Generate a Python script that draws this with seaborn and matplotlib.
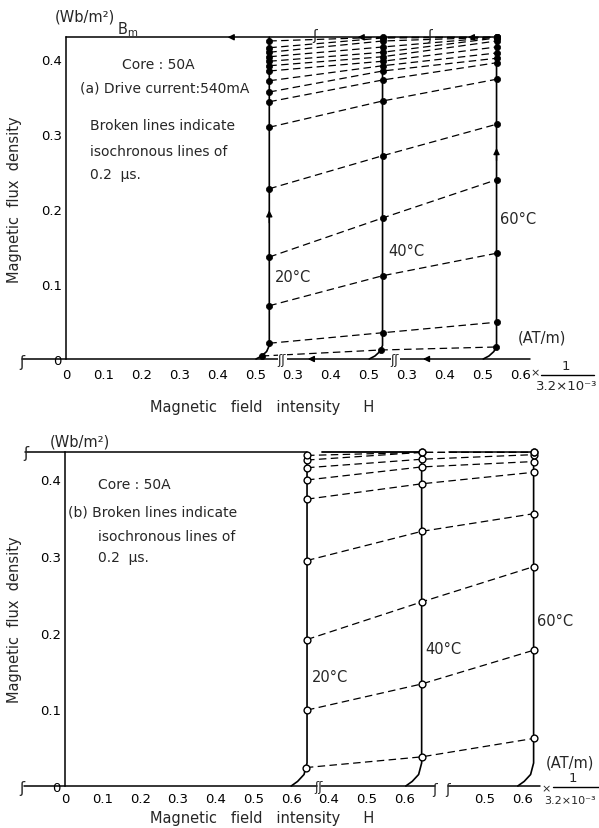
import numpy as np
import pandas as pd
import seaborn as sns
import matplotlib.pyplot as plt

sns.set_style("white")
plt.rcParams['font.family'] = ['DejaVu Sans']

W, HH = 599, 829
temps = ['20°C', '40°C', '60°C']

#######
## (a) drive current 540 mA  (filled dots)
#######
Bm_a = 0.429
Hsw_a = [0.535, 0.536, 0.536]            # switching field of each curve (x 1/3.2e-3 AT/m)
seg_a = [0.0, 0.297, 0.597]              # where each broken H segment sits on the drawing
foot_B_a = [0.0, 0.004, 0.010, 0.018]
foot_dH_a = [-0.035, -0.020, -0.007, 0.0]
# isochronous points (0.2 us apart) on each curve
iso_a_20 = [0.004, 0.021, 0.071, 0.136, 0.227, 0.309, 0.343, 0.356, 0.371, 0.384, 0.391, 0.397, 0.403, 0.409, 0.415, 0.424]
iso_a_40 = [0.012, 0.035, 0.111, 0.188, 0.271, 0.344, 0.372, 0.384, 0.391, 0.397, 0.403, 0.409, 0.416, 0.424, 0.428, 0.429]
iso_a_60 = [0.016, 0.049, 0.141, 0.239, 0.313, 0.373, 0.395, 0.401, 0.408, 0.416, 0.424, 0.428, 0.429, 0.429, 0.429, 0.429]
xt_a = [[0, 0.1, 0.2, 0.3, 0.4, 0.5], [0.3, 0.4, 0.5], [0.3, 0.4, 0.5, 0.6]]

#######
## (b)  (open dots)
#######
Bm_b = 0.435
Hsw_b = [0.642, 0.646, 0.630]
seg_b = [0.0, 0.300, 0.613]
foot_B_b = [0.0, 0.006, 0.015, 0.030]
foot_dH_b = [-0.042, -0.025, -0.008, 0.0]
iso_b_20 = [0.024, 0.099, 0.191, 0.294, 0.374, 0.399, 0.415, 0.425, 0.431]
iso_b_40 = [0.038, 0.133, 0.240, 0.332, 0.394, 0.416, 0.426, 0.435, 0.435]
iso_b_60 = [0.062, 0.177, 0.286, 0.355, 0.409, 0.423, 0.432, 0.435, 0.435]
xt_b = [[0, 0.1, 0.2, 0.3, 0.4, 0.5, 0.6], [0.4, 0.5, 0.6], [0.5, 0.6]]
yt = [0, 0.1, 0.2, 0.3, 0.4]


def build(Hsw, seg, fB, fdH, Bm, isos):
    rows_c, rows_d = [], []
    for i, t in enumerate(temps):
        B_path = np.array(fB + [Bm])
        H_path = np.array([Hsw[i] + d for d in fdH] + [Hsw[i]])
        for h, b in zip(H_path, B_path):
            rows_c.append((t, h + seg[i], b))
        for k, b in enumerate(isos[i]):
            h = np.interp(b, B_path, H_path)
            rows_d.append((k, t, h + seg[i], b))
    curves = pd.DataFrame(rows_c, columns=['temp', 'u', 'B'])
    dots = pd.DataFrame(rows_d, columns=['level', 'temp', 'u', 'B'])
    return curves, dots


curves_a, dots_a = build(Hsw_a, seg_a, foot_B_a, foot_dH_a, Bm_a, [iso_a_20, iso_a_40, iso_a_60])
curves_b, dots_b = build(Hsw_b, seg_b, foot_B_b, foot_dH_b, Bm_b, [iso_b_20, iso_b_40, iso_b_60])

fig = plt.figure(figsize=(W / 100, HH / 100), dpi=100)
ax_a = fig.add_axes([0, 1 - 420 / HH, 1, 420 / HH])
ax_b = fig.add_axes([0, 0, 1, 409 / HH])
# pixel -> data scales of the scanned drawing
ax_a.set_xlim(-66 / 380, (W - 66) / 380)
ax_a.set_ylim((360 - 420) / 750, 360 / 750)
ax_b.set_xlim(-65 / 377, (W - 65) / 377)
ax_b.set_ylim((787 - 829) / 767, (787 - 420) / 767)


def ftxt(px, py, s, **kw):
    kw.setdefault('fontsize', 10)
    kw.setdefault('va', 'center')
    fig.text(px / W, 1 - py / HH, s, **kw)


def arrow_left(ax, u, b):
    ax.annotate('', xy=(u, b), xytext=(u + 0.03, b),
                arrowprops=dict(arrowstyle='-|>', color='k', lw=1, mutation_scale=9))


def arrow_up(ax, u, b):
    ax.annotate('', xy=(u, b + 0.012), xytext=(u, b - 0.012),
                arrowprops=dict(arrowstyle='-|>', color='k', lw=1, mutation_scale=9))


for ax, curves, dots, seg, xt, Bm, xpad in [(ax_a, curves_a, dots_a, seg_a, xt_a, Bm_a, 6.5),
                                              (ax_b, curves_b, dots_b, seg_b, xt_b, Bm_b, 4)]:
    ax.set_facecolor('none')
    sns.lineplot(data=curves, x='u', y='B', units='temp', estimator=None, sort=False,
                 color='k', lw=1.2, ax=ax)
    sns.lineplot(data=dots, x='u', y='B', units='level', estimator=None, sort=False,
                 color='k', lw=0.9, linestyle=(0, (6, 3.5)), ax=ax)
    pos = [v + seg[i] for i in range(3) for v in xt[i]]
    labs = [('0' if v == 0 else f'{v:g}') for i in range(3) for v in xt[i]]
    ax.set_xticks(pos, labs)
    ax.set_yticks(yt, ['0' if v == 0 else f'{v:g}' for v in yt])
    for s in ['top', 'right']:
        ax.spines[s].set_visible(False)
    ax.spines['left'].set_position(('data', 0))
    ax.spines['left'].set_bounds(0, Bm)
    ax.spines['left'].set_linewidth(1.1)
    ax.spines['left'].set_color('k')
    ax.spines['bottom'].set_position(('data', 0))
    ax.spines['bottom'].set_visible(False)
    ax.tick_params(axis='x', direction='in', length=4, width=1, pad=xpad, labelsize=9.5, colors='k')
    ax.tick_params(axis='y', direction='in', length=5, width=1, pad=3, labelsize=9.5, colors='k')

sns.scatterplot(data=dots_a, x='u', y='B', color='k', edgecolor='k', s=20, linewidth=0.5,
                zorder=4, ax=ax_a)
sns.scatterplot(data=dots_b, x='u', y='B', color='white', edgecolor='k', s=24, linewidth=1,
                zorder=4, ax=ax_b)
for ax in [ax_a, ax_b]:
    ax.set_xlabel('')
    ax.set_ylabel('')

# ---- axis lines, Bm line, breaks (a) ----
u_c3a = Hsw_a[2] + seg_a[2]
ax_a.plot([-0.116, 1.221], [0, 0], color='k', lw=1.1)
ax_a.plot([0, u_c3a], [Bm_a, Bm_a], color='k', lw=1.1)
for u in [0.418, 0.76, 1.05]:
    arrow_left(ax_a, u, Bm_a)
for u in [0.629, 0.932]:
    arrow_left(ax_a, u, 0)
arrow_up(ax_a, Hsw_a[0] + seg_a[0], 0.19)
arrow_up(ax_a, u_c3a, 0.273)
for px in [282, 395]:
    ftxt(px, 361, 'ʃʃ', fontsize=9, ha='center',
         bbox=dict(fc='white', ec='none', pad=0.2))
for px in [315, 430]:
    ftxt(px, 36, 'ʃ', fontsize=10, ha='center')
ftxt(22, 362, 'ʃ', fontsize=11, ha='center')

# ---- axis lines, Bm line, breaks (b) ----
u_b = [Hsw_b[i] + seg_b[i] for i in range(3)]
ax_b.plot([-0.11, 0.668], [0, 0], color='k', lw=1.1)
ax_b.plot([0.679, 0.981], [0, 0], color='k', lw=1.1)
ax_b.plot([1.016, 1.26], [0, 0], color='k', lw=1.1)
ax_b.plot([-0.106, u_b[0]], [Bm_b, Bm_b], color='k', lw=1.1)
ax_b.plot([0.682, u_b[1]], [Bm_b, Bm_b], color='k', lw=1.3)
ax_b.plot([1.019, u_b[2]], [Bm_b, Bm_b], color='k', lw=1.1)
ftxt(319, 788, 'ʃʃ', fontsize=9, ha='center')
ftxt(435, 790, 'ʃ', fontsize=10, ha='center')
ftxt(448, 790, 'ʃ', fontsize=10, ha='center')
ftxt(22, 789, 'ʃ', fontsize=11, ha='center')
ftxt(26, 454, 'ʃ', fontsize=11, ha='center')

# ---- texts (a) ----
ftxt(85, 17, '(Wb/m²)', ha='center', fontsize=10.5)
ftxt(128, 30, r'B$_\mathregular{m}$', ha='center', fontsize=10.5)
ftxt(122, 65, 'Core : 50A')
ftxt(80, 88, '(a) Drive current:540mA')
ftxt(90, 126, 'Broken lines indicate')
ftxt(90, 152, 'isochronous lines of')
ftxt(90, 175, '0.2  μs.')
ftxt(275, 277, '20°C', fontsize=10.5)
ftxt(388, 252, '40°C', fontsize=10.5)
ftxt(500, 220, '60°C', fontsize=10.5)
ftxt(518, 338, '(AT/m)', fontsize=10.5)
ftxt(535, 373, '×', ha='center', fontsize=8)
ftxt(566, 366, '1', ha='center', fontsize=9.5)
fig.add_artist(plt.Line2D([541 / W, 594 / W], [1 - 376 / HH, 1 - 376 / HH], color='k', lw=1))
ftxt(567, 386, '3.2×10⁻³', ha='center', fontsize=9.5)
ftxt(262, 408, 'Magnetic   field   intensity     H', ha='center', fontsize=10.5)
ftxt(15, 200, 'Magnetic  flux  density', ha='center', rotation=90, fontsize=10.5)

# ---- texts (b) ----
ftxt(80, 442, '(Wb/m²)', ha='center', fontsize=10.5)
ftxt(98, 485, 'Core : 50A')
ftxt(68, 513, '(b) Broken lines indicate')
ftxt(98, 537, 'isochronous lines of')
ftxt(98, 558, '0.2  μs.')
ftxt(312, 678, '20°C', fontsize=10.5)
ftxt(425, 650, '40°C', fontsize=10.5)
ftxt(537, 622, '60°C', fontsize=10.5)
ftxt(546, 763, '(AT/m)', fontsize=10.5)
ftxt(546, 789, '×', ha='center', fontsize=8)
ftxt(573, 779, '1', ha='center', fontsize=9.5)
fig.add_artist(plt.Line2D([553 / W, 1.0], [1 - 788 / HH, 1 - 788 / HH], color='k', lw=1))
ftxt(596, 801, '3.2×10⁻³', ha='right', fontsize=8)
ftxt(262, 819, 'Magnetic   field   intensity     H', ha='center', fontsize=10.5)
ftxt(15, 620, 'Magnetic  flux  density', ha='center', rotation=90, fontsize=10.5)

fig.savefig('out.png', dpi=100)
